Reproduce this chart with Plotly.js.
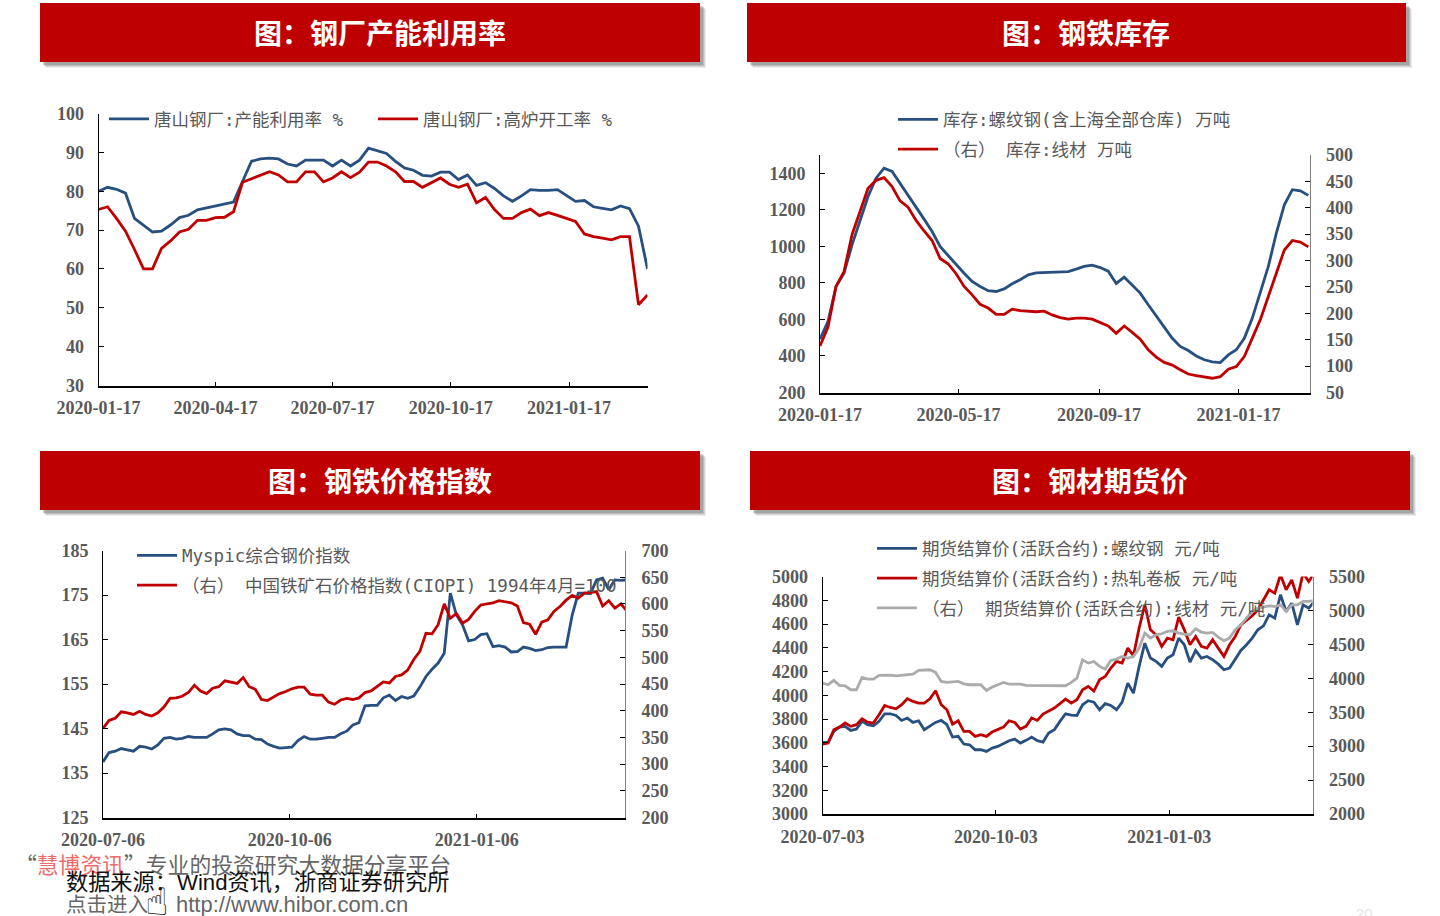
<!DOCTYPE html>
<html><head><meta charset="utf-8">
<script src="https://cdn.plot.ly/plotly-3.0.1.min.js"></script>
<style>html,body{margin:0;padding:0;background:#fff;overflow:hidden}#g{width:1440px;height:916px}</style>
</head><body><div id="g"></div>
<script>
// ---------- data ----------
const tsCapacity=[80,81,80.5,79.5,73,71.3,69.5,69.7,71.3,73.2,73.8,75.2,75.7,76.2,76.7,77.2,82.5,87.7,88.3,88.5,88.3,87,86.5,88,88,88,86.5,88,86.5,88,91.1,90.3,89.7,87.7,86,85.4,84.1,83.9,84.9,84.9,83,84.2,81.5,82.2,80.7,78.8,77.4,78.8,80.4,80.2,80.2,80.4,78.8,77.4,77.6,76,75.6,75.2,76.2,75.5,71,60];
const tsBlast=[75.3,76,73,69.7,65,60,60,65.3,67.2,69.5,70.2,72.5,72.5,73.2,73.3,74.7,82.3,83.2,84,85,84.2,82.4,82.4,85,85,82.4,83.4,85,83.5,84.9,87.5,87.5,86.5,85,82.5,82.5,81,82.2,83.4,81.8,81,81.8,77,78.4,75.3,73,73,74.5,75.4,73.7,74.5,73.8,73,72.2,69,68.3,67.9,67.5,68.3,68.3,50.8,53.3];
const invRebar=[492,589,780,853,1008,1136,1273,1373,1428,1410,1346,1282,1215,1149,1081,999,950,899,853,808,780,757,753,767,795,817,844,855,857,859,859,862,875,890,897,884,864,797,831,789,744,680,616,558,497,452,430,400,379,368,364,406,434,497,607,744,890,1072,1227,1310,1304,1279];
const invWire=[138,174,251,279,349,393,437,452,457,440,413,401,376,356,338,304,294,275,251,235,217,210,198,198,208,205,204,203,204,197,192,189,191,191,189,183,176,162,176,164,151,131,117,107,102,93,85,82,80,77,80,94,99,118,153,188,232,276,320,338,335,326];
const mysteel=[137.5,139.6,139.9,140.5,140.2,139.9,141,140.8,140.4,141.3,142.8,143,142.6,142.8,143.2,143,143,143,143.8,144.7,144.9,144.7,143.8,143.4,143.4,142.6,142.5,141.5,141,140.6,140.7,140.8,142.3,143.2,142.6,142.6,142.8,143,143,143.8,144.4,145.8,146.3,150.1,150.2,150.2,151.9,152.5,151.3,152.2,151.8,152.3,154.3,156.7,158.3,159.7,161.9,175.4,170.5,168.3,164.7,165,166.1,166.3,163.4,163.6,163.3,162.2,162.3,163.3,163,162.5,162.7,163.2,163.3,163.3,163.3,170.5,175.4,175.4,175.3,178.4,178.8,176.2,178.4,178.3,178.4];
const ciopi=[367,382,386,398,396,393,399,393,390,396,407,423,424,427,434,447.5,437,432,442,445,456,454,451,462,445,440,421,419,426,432,436,441,444,444,431,429,429,416,412,420,423,421,424,434,437,445,454,452,464,467,476,496,511,545,544,561,600,573,582,564,571,586,598,600,602,606,604,602,596,565,562,543,566,570,586,595,607,616,611,620,621,623,596,606,592,600,586];
const futRebar=[3603,3606,3696,3732,3738,3704,3715,3780,3752,3743,3780,3844,3844,3830,3788,3808,3771,3785,3710,3738,3771,3788,3752,3648,3654,3589,3583,3541,3541,3527,3555,3569,3592,3617,3631,3597,3620,3648,3617,3606,3682,3710,3780,3844,3833,3830,3920,3954,3942,3878,3929,3914,3878,3942,4102,4018,4243,4439,4313,4285,4243,4313,4341,4481,4425,4279,4377,4313,4327,4299,4262,4215,4229,4299,4377,4425,4481,4551,4585,4677,4649,4846,4705,4775,4593,4761,4733,4790];
const futHot=[3589,3597,3710,3732,3766,3738,3752,3802,3774,3766,3836,3914,3897,3886,3920,3970,3948,3934,3934,3970,4038,3920,3878,3757,3785,3696,3696,3654,3668,3654,3690,3710,3732,3785,3771,3715,3738,3808,3788,3842,3864,3892,3929,3968,3934,3962,4046,4074,4035,4130,4158,4229,4285,4271,4397,4332,4565,4762,4551,4509,4411,4481,4467,4658,4551,4425,4495,4411,4397,4467,4397,4327,4425,4495,4593,4630,4669,4719,4804,4888,4860,5014,4888,4972,4818,5028,4958,5028];
const futWire=[3929,3905,3969,3895,3890,3831,3831,4013,3988,3988,4042,4047,4047,4037,4047,4062,4062,4116,4126,4126,4086,3954,3939,3944,3954,3919,3905,3905,3905,3821,3870,3905,3939,3915,3910,3915,3895,3895,3890,3890,3890,3890,3890,3890,3939,4003,4273,4224,4248,4175,4135,4263,4283,4322,4297,4322,4445,4666,4592,4641,4656,4690,4700,4666,4651,4641,4730,4681,4666,4675,4607,4553,4592,4715,4788,4887,4985,5034,5049,5068,5058,5083,4985,5083,5083,5132,5132,5147];
const ticks1=['2020-01-17','2020-04-17','2020-07-17','2020-10-17','2021-01-17'];
const ticks2=['2020-01-17','2020-05-17','2020-09-17','2021-01-17'];
const ticks3=['2020-07-06','2020-10-06','2021-01-06'];
const ticks4=['2020-07-03','2020-10-03','2021-01-03'];
const titles=['图：钢厂产能利用率','图：钢铁库存','图：钢铁价格指数','图：钢材期货价'];
// ---------- helpers ----------
const W=1440,H=916;
const px=v=>v/W, py=v=>1-v/H;
function dates(start,n,step){const d=new Date(start+'T00:00:00Z'),o=[];for(let i=0;i<n;i++){o.push(new Date(d.getTime()+i*step*864e5).toISOString().slice(0,10));}return o;}
const BLUE='#274F7F',RED='#C00000',GREY='#ABABAB',TXT='#595959';
const tf={family:'"Liberation Serif",serif',size:18,color:TXT,weight:600};
const lf={family:'"DejaVu Sans Mono","Noto Sans CJK SC",sans-serif',size:17.5,color:TXT};
function line(name,x,y,c,xa,ya,leg,grp){return {type:'scatter',mode:'lines',name,x,y,xaxis:xa,yaxis:ya,legend:leg,legendgroup:grp,line:{color:c,width:2.8},hoverinfo:'skip'};}
function xax(l,r,t,b,vals,end,anchor){return {domain:[px(l),px(r)],anchor,type:'date',range:[vals[0],end],tickmode:'array',tickvals:vals,ticktext:vals,ticks:'inside',ticklen:4,tickcolor:'#000',tickwidth:1,showline:true,linecolor:'#000',linewidth:2,showgrid:false,zeroline:false,tickfont:tf,ticklabelstandoff:5,ticklabeloverflow:'allow'};}
function yax(t,b,rng,vals,anchor,side,over){const a={domain:[py(b),py(t)],anchor,range:rng,tickmode:'array',tickvals:vals,ticks:'inside',ticklen:5,tickcolor:'#000',tickwidth:1,showline:true,linecolor:side==='right'?'#7f7f7f':'#000',linewidth:1,showgrid:false,zeroline:false,tickfont:tf,ticklabelstandoff:side==='right'?12:10,side:side};if(over)a.overlaying=over;return a;}
function range(a,b,s){const o=[];for(let v=a;v<=b;v+=s)o.push(v);return o;}
function leg(x,yy,extra){return Object.assign({x:px(x),y:py(yy),xanchor:'left',yanchor:'top',bgcolor:'rgba(0,0,0,0)',borderwidth:0,font:lf,itemwidth:40,traceorder:'grouped',tracegroupgap:4,itemclick:false,itemdoubleclick:false},extra||{});}
// ---------- x values ----------
const xW=dates('2020-01-17',62,7);
const x3=dates('2020-07-06',mysteel.length,3);
const x4=dates('2020-07-03',futRebar.length,3);
const data=[
 line('唐山钢厂:产能利用率 %',xW,tsCapacity,BLUE,'x','y','legend','a'),
 line('唐山钢厂:高炉开工率 %',xW,tsBlast,RED,'x','y','legend','b'),
 line('库存:螺纹钢(含上海全部仓库) 万吨',xW,invRebar,BLUE,'x2','y2','legend2','c'),
 line('（右） 库存:线材 万吨',xW,invWire,RED,'x2','y3','legend2','d'),
 line('Myspic综合钢价指数',x3,mysteel,BLUE,'x3','y4','legend3','e'),
 line('（右） 中国铁矿石价格指数(CIOPI) 1994年4月=100',x3,ciopi,RED,'x3','y5','legend3','f'),
 line('期货结算价(活跃合约):螺纹钢 元/吨',x4,futRebar,BLUE,'x4','y6','legend4','g'),
 line('期货结算价(活跃合约):热轧卷板 元/吨',x4,futHot,RED,'x4','y6','legend4','h'),
 line('（右） 期货结算价(活跃合约):线材 元/吨',x4,futWire,GREY,'x4','y7','legend4','i')
];
// ---------- banners ----------
const banners=[[40,3,700,62],[747,3,1406,62],[40,451,700,510],[750,451,1410,510]];
const shapes=[],ann=[];
banners.forEach((b,i)=>{
 [[6,.12],[5,.18],[4,.25],[3,.3]].forEach(s=>shapes.push({type:'rect',xref:'paper',yref:'paper',layer:'below',x0:px(b[0]+s[0]),x1:px(b[2]+s[0]),y0:py(b[3]+s[0]),y1:py(b[1]+s[0]),fillcolor:`rgba(110,110,110,${s[1]})`,line:{width:0}}));
 shapes.push({type:'rect',xref:'paper',yref:'paper',layer:'below',x0:px(b[0]),x1:px(b[2]),y0:py(b[3]),y1:py(b[1]),fillcolor:'#BE0000',line:{width:0}});
 ann.push({xref:'paper',yref:'paper',x:px((b[0]+b[2])/2+9.5),y:py((b[1]+b[3])/2-.5),xanchor:'center',yanchor:'middle',showarrow:false,text:titles[i],font:{family:'"Noto Sans CJK SC"',size:28,color:'#fff',weight:700}});
});
function note(x,y,text,size,color,fam){ann.push({xref:'paper',yref:'paper',x:px(x),y:py(y),xanchor:'left',yanchor:'middle',showarrow:false,text,font:{family:fam||'"Liberation Sans","Noto Sans CJK SC"',size,color}});}
note(13,863,'<span style="color:#666">“</span><span style="color:#F06A6A">慧博资讯</span><span style="color:#666">”专业的投资研究大数据分享平台</span>',21.8,'#666','"Noto Sans CJK SC"');
note(64,882,'数据来源：Wind资讯，浙商证券研究所',22.2,'#111');
note(64,904,'点击进入',20.5,'#666');
note(143,902,'☝',38,'#222','"DejaVu Sans"');
note(174,904,'http://www.hibor.com.cn',22,'#666','"Liberation Sans"');
note(1354,913,'20',15,'#E6E6E6');
const layout={width:W,height:H,margin:{l:0,r:0,t:0,b:0},paper_bgcolor:'#fff',plot_bgcolor:'rgba(0,0,0,0)',showlegend:true,shapes,annotations:ann,
 xaxis:xax(98.5,647.5,113.5,385.5,ticks1,'2021-03-19','y'),
 yaxis:yax(113.5,385.5,[30,100],range(30,100,10),'x','left'),
 xaxis2:xax(820,1309.5,155,392.5,ticks2,'2021-03-20','y2'),
 yaxis2:yax(155,392.5,[200,1500],range(200,1400,200),'x2','left'),
 yaxis3:yax(155,392.5,[50,500],range(50,500,50),'x2','right','y2'),
 xaxis3:xax(103,625,550.5,817.5,ticks3,'2021-03-20','y4'),
 yaxis4:yax(550.5,817.5,[125,185],range(125,185,10),'x3','left'),
 yaxis5:yax(550.5,817.5,[200,700],range(200,700,50),'x3','right','y4'),
 xaxis4:xax(822.5,1312.5,576.5,814,ticks4,'2021-03-20','y6'),
 yaxis6:yax(576.5,814,[3000,5000],range(3000,5000,200),'x4','left'),
 yaxis7:yax(576.5,814,[2000,5500],range(2000,5500,500),'x4','right','y6'),
 legend:leg(104,101,{orientation:'h',entrywidth:214,entrywidthmode:'pixels'}),
 legend2:leg(893,101.5),
 legend3:leg(132,537.5),
 legend4:leg(872,530.5)
};
Plotly.newPlot('g',data,layout,{staticPlot:false,displayModeBar:false,responsive:false});
</script></body></html>
